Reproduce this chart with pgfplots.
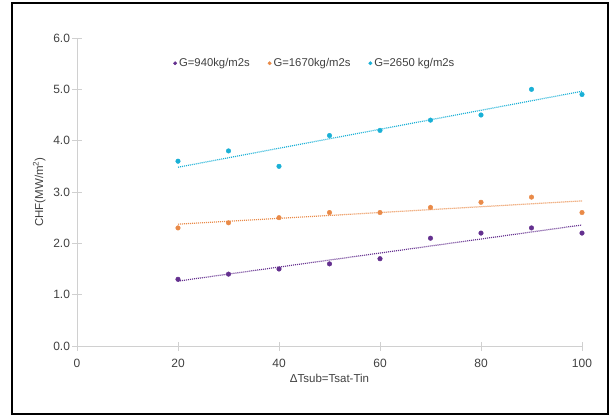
\documentclass[border=0pt]{standalone}
\usepackage{pgfplots}
\pgfplotsset{compat=1.18}
\usepackage{pgfplotstable}
\usepackage{fontspec}
\setmainfont{Liberation Sans}
\definecolor{cpur}{HTML}{64308F}
\definecolor{cora}{HTML}{E98A48}
\definecolor{ccya}{HTML}{1AB0D6}
\definecolor{txt}{HTML}{404040}
\definecolor{axg}{HTML}{D0D0D0}
\pgfplotstableread{
x a b c
20 1.3 2.3 3.6
30 1.4 2.4 3.8
40 1.5 2.5 3.5
50 1.6 2.6 4.1
60 1.7 2.6 4.2
70 2.1 2.7 4.4
80 2.2 2.8 4.5
90 2.3 2.9 5.0
100 2.2 2.6 4.9
}\data
\begin{document}
\begin{tikzpicture}[x=1pt,y=1pt]
\useasboundingbox (-77,-71) rectangle (532,346);
\draw[black,line width=2pt] (-65,-68) rectangle (530.5,343);
\begin{axis}[
  at={(0,0)}, anchor=origin,
  scale only axis, width=505pt, height=308pt,
  xmin=0, xmax=100, ymin=0, ymax=6,
  xtick={0,20,...,100}, ytick={0,1,...,6},
  yticklabel style={/pgf/number format/fixed,/pgf/number format/fixed zerofill,/pgf/number format/precision=1},
  /pgf/number format/assume math mode=true,
  axis x line*=bottom, axis y line*=left,
  axis line style={axg, line width=1pt, -},
  tick style={axg, line width=1pt},
  major tick length=9pt,
  xtick pos=bottom, ytick pos=left,
  xtick align=center, ytick align=center,
  tick label style={font=\fontsize{12}{13}\selectfont, text=txt},
  xticklabel style={yshift=-5pt},
  yticklabel style={xshift=1pt},
  xlabel={ΔTsub=Tsat-Tin},
  ylabel={CHF(MW/m\textsuperscript{2})},
  label style={font=\fontsize{11.5}{13}\selectfont, text=txt},
  xlabel style={yshift=0pt},
  ylabel style={yshift=1pt},
  legend columns=3,
  legend style={draw=none, fill=none, at={(0.471,0.918)}, anchor=center,
    font=\fontsize{11.3}{13}\selectfont, text=txt,
    /tikz/every even column/.append style={column sep=16pt}},
  legend image code/.code={\fill[#1] (4pt,0) circle (1.7pt);},
]
\addplot[only marks, mark=*, mark size=2.3pt, color=cpur] table[x=x,y=a]{\data};
\addlegendentry{G=940kg/m2s}
\addplot[only marks, mark=*, mark size=2.3pt, color=cora] table[x=x,y=b]{\data};
\addlegendentry{G=1670kg/m2s}
\addplot[only marks, mark=*, mark size=2.3pt, color=ccya] table[x=x,y=c]{\data};
\addlegendentry{G=2650 kg/m2s}
\addplot[forget plot, no marks, cpur, line width=1.2pt, dash pattern=on 1pt off 1pt] table[x=x,y={create col/linear regression={y=a}}]{\data};
\addplot[forget plot, no marks, cora, line width=1.2pt, dash pattern=on 1pt off 1pt] table[x=x,y={create col/linear regression={y=b}}]{\data};
\addplot[forget plot, no marks, ccya, line width=1.2pt, dash pattern=on 1pt off 1pt] table[x=x,y={create col/linear regression={y=c}}]{\data};
\end{axis}
\end{tikzpicture}
\end{document}
